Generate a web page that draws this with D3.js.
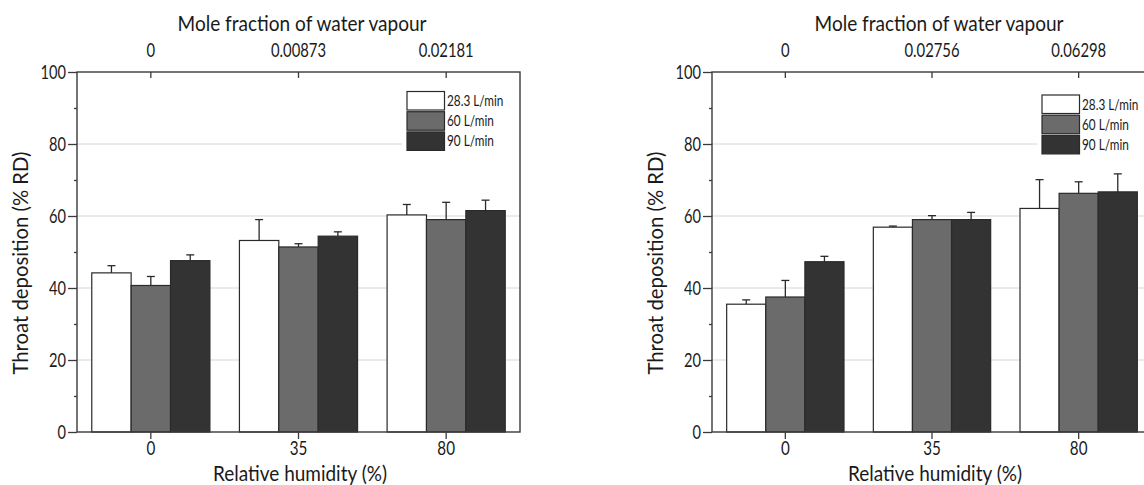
<!DOCTYPE html>
<html>
<head>
<meta charset="utf-8">
<script src="https://cdn.jsdelivr.net/npm/d3@7"></script>
<style>
  body { margin: 0; background: #fff; }
  text { font-family: Lato, "Noto Sans", sans-serif; fill: #1a1a1a; }
</style>
</head>
<body>
<svg id="chart" width="1144" height="485"></svg>
<script>
const humidity = ["0", "35", "80"];
const flowRates = ["28.3 L/min", "60 L/min", "90 L/min"];
const moleLeft = ["0", "0.00873", "0.02181"];
const moleRight = ["0", "0.02756", "0.06298"];

// left panel: mean throat deposition and upper error, one row per flow rate
const leftMeans = [
  [44.2, 53.2, 60.3],
  [40.7, 51.4, 59.0],
  [47.6, 54.4, 61.5]
];
const leftErrors = [
  [2.0, 5.8, 2.9],
  [2.5, 0.9, 4.8],
  [1.6, 1.2, 2.9]
];

// right panel
const rightMeans = [
  [35.5, 56.9, 62.1],
  [37.5, 59.0, 66.3],
  [47.3, 59.0, 66.7]
];
const rightErrors = [
  [1.2, 0.3, 8.0],
  [4.6, 1.1, 3.2],
  [1.5, 2.0, 5.0]
];

const yMajor = [0, 20, 40, 60, 80, 100];
const yMinor = [10, 30, 50, 70, 90];
const gridValues = [20, 40, 60, 80];

const fills = ["#ffffff", "#6b6b6b", "#333333"];
const ink = "#2a2a2a";

const svg = d3.select("#chart");

// squeeze text horizontally, the original font is a narrow one
function condense(sel, k) {
  sel.each(function () {
    const w = this.getComputedTextLength();
    d3.select(this).attr("textLength", w * k).attr("lengthAdjust", "spacingAndGlyphs");
  });
}
function fitWidth(sel, w) {
  sel.attr("textLength", w).attr("lengthAdjust", "spacingAndGlyphs");
}

function drawPanel(p) {
  const g = svg.append("g");

  const x = d3.scaleBand().domain(humidity).range([p.x0, p.x1]);
  const xInner = d3.scaleBand().domain(flowRates)
    .range([0, x.bandwidth()]).paddingOuter(0.375).paddingInner(0);
  const y = d3.scaleLinear().domain([0, 100]).range([432, 72]);

  // grid
  g.append("g").selectAll("line").data(gridValues).join("line")
    .attr("x1", p.x0).attr("x2", p.x1)
    .attr("y1", d => y(d)).attr("y2", d => y(d))
    .attr("stroke", "#d6d6d6").attr("stroke-width", 1);

  // legend background hides grid behind it
  g.append("rect")
    .attr("x", p.x1 - p.legendDx - 5).attr("y", p.legendTop - 4)
    .attr("width", p.legendDx + 4).attr("height", 68)
    .attr("fill", "#fff");

  // bars
  const rows = [];
  flowRates.forEach((f, i) => humidity.forEach((h, j) => {
    rows.push({ f, h, i, v: p.means[i][j], e: p.errors[i][j] });
  }));

  const bars = g.append("g");
  bars.selectAll("rect").data(rows).join("rect")
    .attr("x", d => x(d.h) + xInner(d.f))
    .attr("y", d => y(d.v))
    .attr("width", xInner.bandwidth())
    .attr("height", d => y(0) - y(d.v))
    .attr("fill", d => fills[d.i])
    .attr("stroke", ink).attr("stroke-width", 1.2);

  // error bars (upper only)
  const cx = d => x(d.h) + xInner(d.f) + xInner.bandwidth() / 2;
  const err = g.append("g").attr("stroke", ink).attr("stroke-width", 1.3);
  err.selectAll("line.v").data(rows).join("line").attr("class", "v")
    .attr("x1", cx).attr("x2", cx)
    .attr("y1", d => y(d.v)).attr("y2", d => y(d.v + d.e));
  err.selectAll("line.c").data(rows).join("line").attr("class", "c")
    .attr("x1", d => cx(d) - 4).attr("x2", d => cx(d) + 4)
    .attr("y1", d => y(d.v + d.e)).attr("y2", d => y(d.v + d.e));

  // frame
  g.append("rect")
    .attr("x", p.x0).attr("y", 72)
    .attr("width", p.x1 - p.x0).attr("height", 360)
    .attr("fill", "none").attr("stroke", "#3a3a3a").attr("stroke-width", 1.4);

  // axes
  const left = g.append("g").attr("transform", `translate(${p.x0},0)`)
    .call(d3.axisLeft(y).tickValues(yMajor).tickSize(9).tickPadding(2));
  const leftMinor = g.append("g").attr("transform", `translate(${p.x0},0)`)
    .call(d3.axisLeft(y).tickValues(yMinor).tickSize(3).tickFormat(""));
  const bottom = g.append("g").attr("transform", "translate(0,432)")
    .call(d3.axisBottom(x).tickSize(7).tickPadding(3));
  const top = g.append("g").attr("transform", "translate(0,72)")
    .call(d3.axisTop(x).tickSize(-6).tickPadding(15)
      .tickFormat((d, i) => p.mole[i]));

  [left, leftMinor, bottom, top].forEach(a => {
    a.select(".domain").remove();
    a.selectAll(".tick line").attr("stroke", "#3a3a3a").attr("stroke-width", 1.3);
    a.selectAll("text").attr("font-size", 19).attr("font-family", "Lato").attr("fill", "#1a1a1a");
  });
  condense(left.selectAll("text"), 0.77);
  condense(bottom.selectAll("text"), 0.8);
  condense(top.selectAll("text"), 0.78);

  // titles
  const t1 = g.append("text").attr("x", p.titleX).attr("y", 31)
    .attr("text-anchor", "middle").attr("font-size", 21)
    .text("Mole fraction of water vapour");
  const t2 = g.append("text").attr("x", p.x0 + 223).attr("y", 481)
    .attr("text-anchor", "middle").attr("font-size", 21)
    .text("Relative humidity (%)");
  const t3 = g.append("text")
    .attr("transform", `translate(${p.x0 - 49},263) rotate(-90)`)
    .attr("text-anchor", "middle").attr("font-size", 21)
    .text("Throat deposition (% RD)");
  fitWidth(t1, 249);
  fitWidth(t2, 174);
  fitWidth(t3, 223);

  // legend
  const lg = g.append("g").attr("transform", `translate(${p.x1 - p.legendDx},${p.legendTop})`);
  const item = lg.selectAll("g").data(flowRates).join("g")
    .attr("transform", (d, i) => `translate(0,${i * 20.2})`);
  item.append("rect")
    .attr("width", 37.5).attr("height", 18.5)
    .attr("fill", (d, i) => fills[i])
    .attr("stroke", ink).attr("stroke-width", 1.2);
  const lt = item.append("text").attr("x", 40).attr("y", 14.5)
    .attr("font-size", 15.5).text(d => d);
  condense(lt, 0.76);
}

drawPanel({
  x0: 77, x1: 520, titleX: 302,
  mole: moleLeft, means: leftMeans, errors: leftErrors,
  legendTop: 91.5, legendDx: 113
});

drawPanel({
  x0: 712, x1: 1152, titleX: 939,
  mole: moleRight, means: rightMeans, errors: rightErrors,
  legendTop: 95, legendDx: 110
});
</script>
</body>
</html>
